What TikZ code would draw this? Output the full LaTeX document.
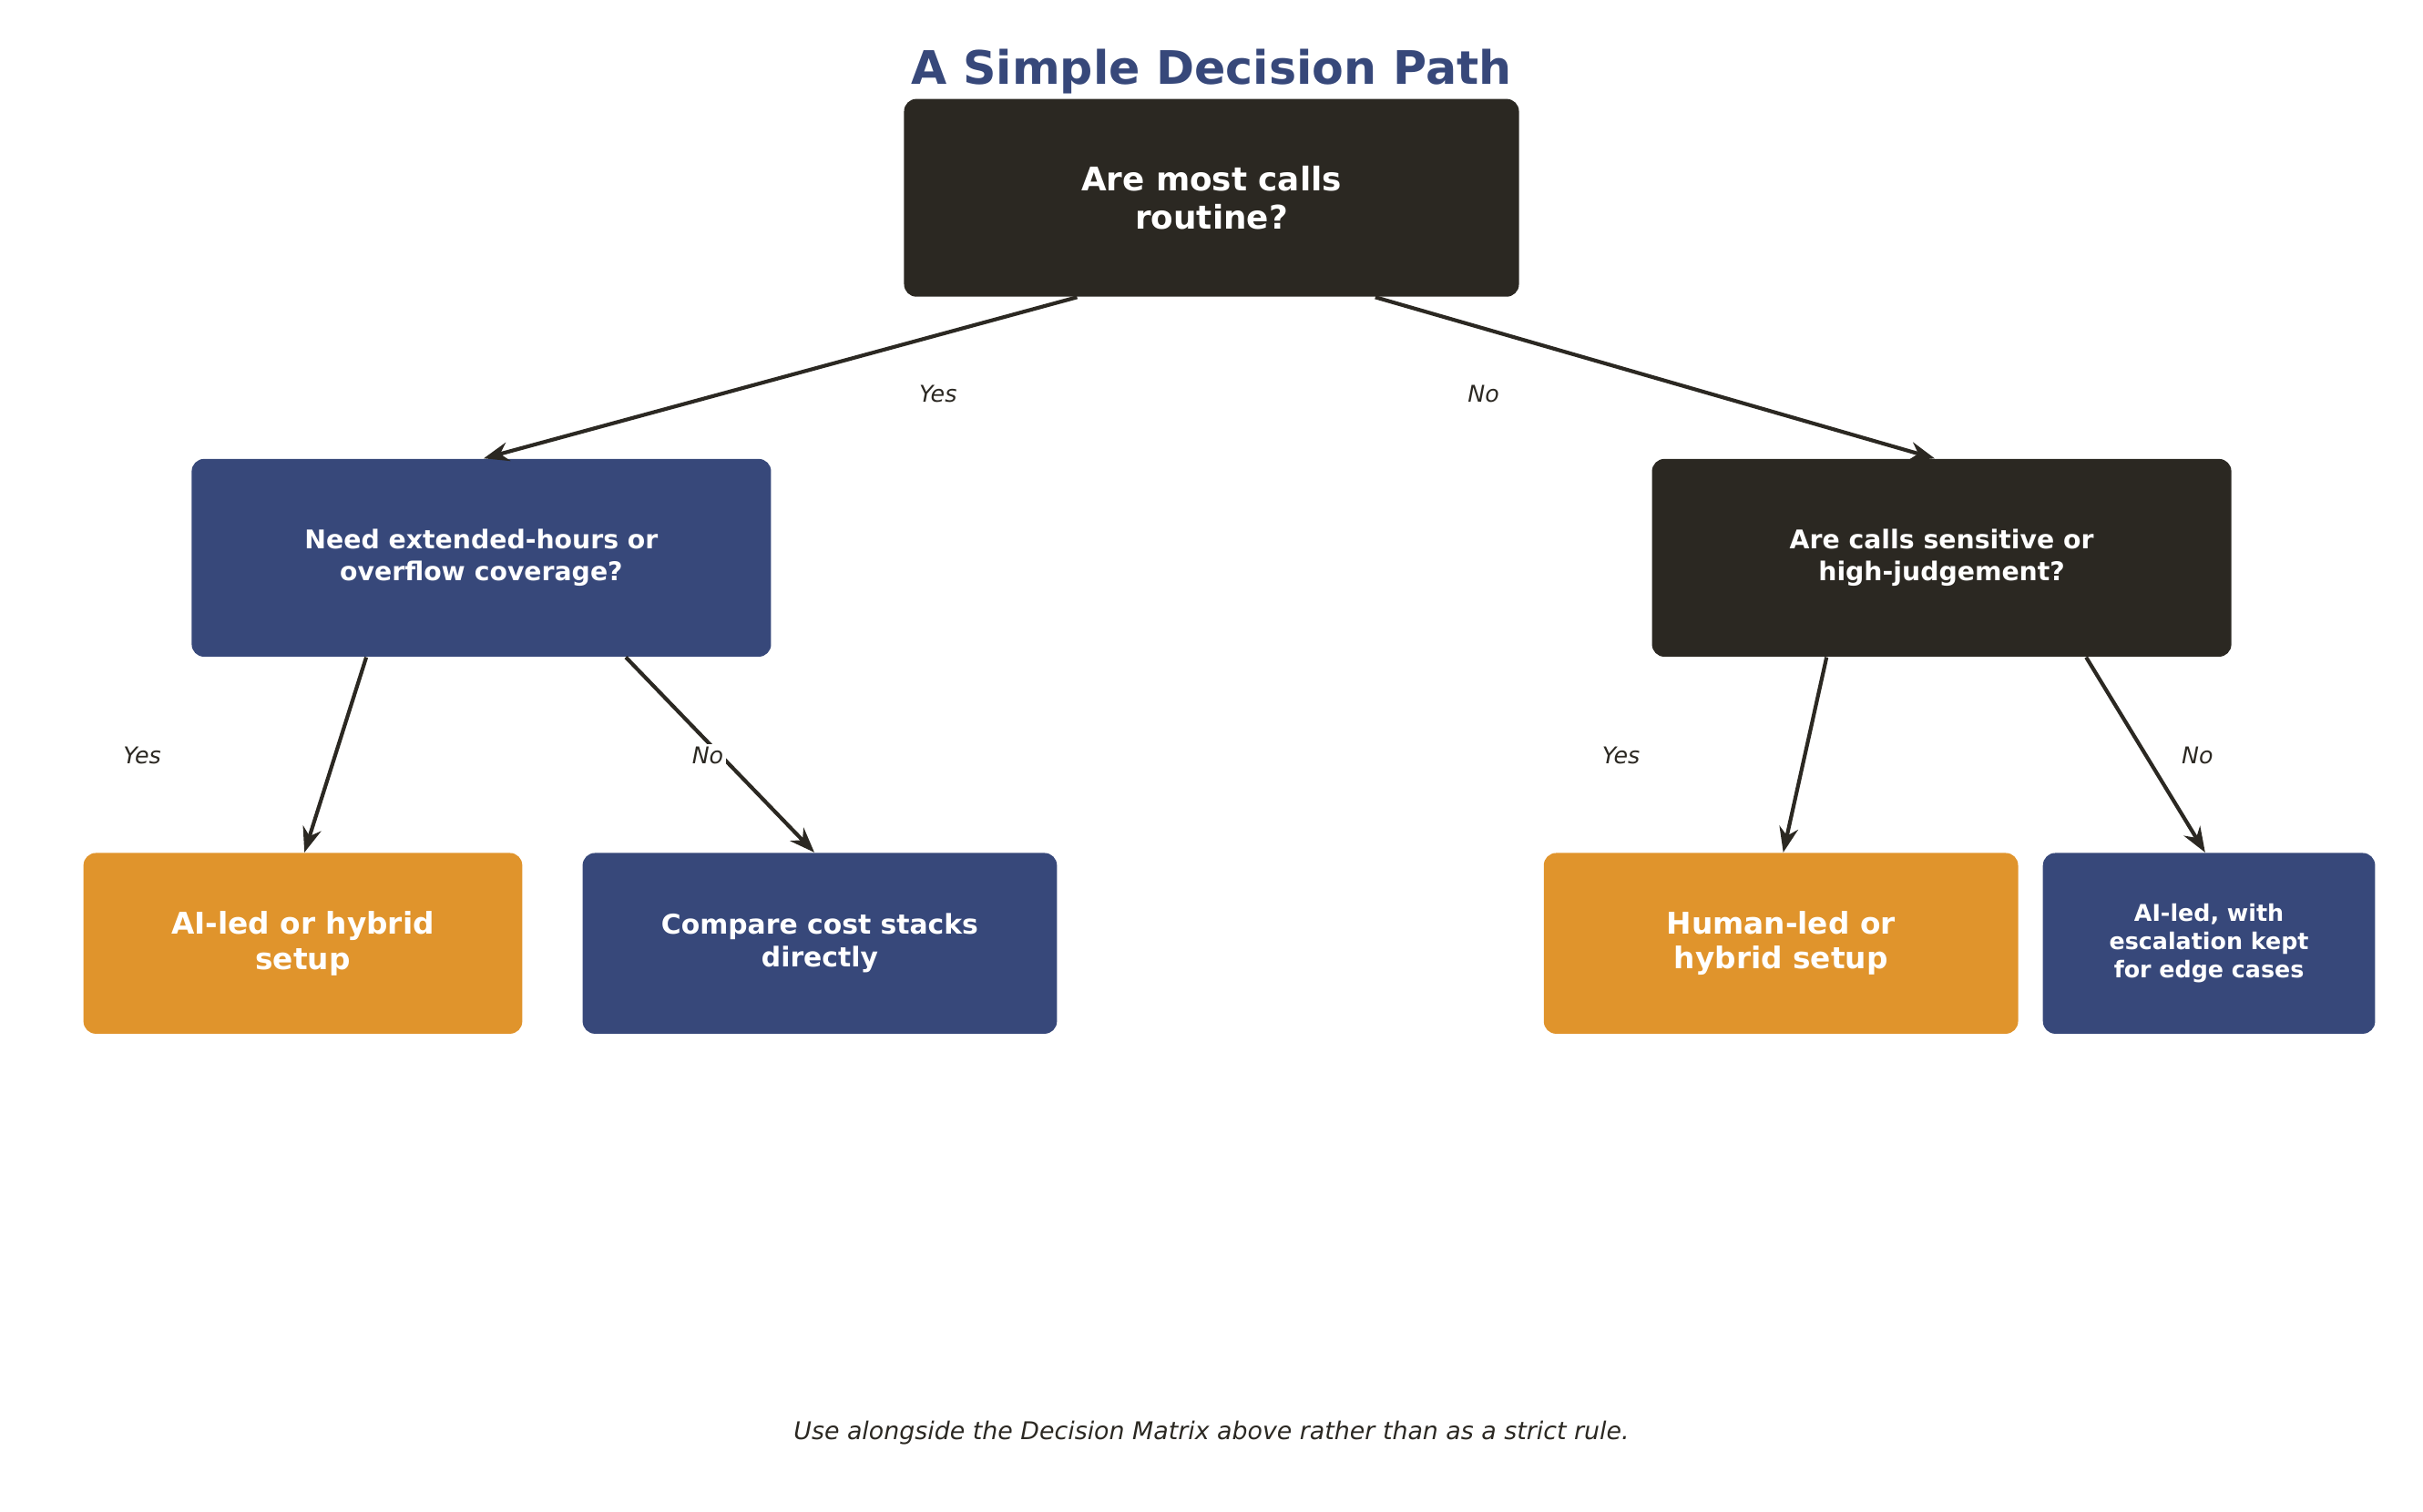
\documentclass[tikz,border=0pt]{standalone}
\usepackage{fontspec}
\setmainfont{DejaVu Sans}
\usetikzlibrary{positioning,arrows.meta,calc}
\definecolor{darkbox}{HTML}{2B2822}
\definecolor{bluebox}{HTML}{37487A}
\definecolor{orangebox}{HTML}{E0942C}
\begin{document}
\begin{tikzpicture}[
  x=0.02cm, y=-0.02cm,
  >=Stealth,
  box/.style={rounded corners=0.16cm, text=white, font=\bfseries, align=center, inner sep=0pt},
  q_dark/.style={box, fill=darkbox},
  q_blue/.style={box, fill=bluebox},
  leaf_orange/.style={box, fill=orangebox},
  edge/.style={->, draw=darkbox, line width=1.4pt},
  ans/.style={font=\itshape\fontsize{8.5}{10}\selectfont, text=darkbox}
]
\useasboundingbox (0,0) rectangle (1568,978);

% --- Titulo ---
\node[font=\bfseries\fontsize{17}{20}\selectfont, text=bluebox] (title) at (784,46) {A Simple Decision Path};

% --- Perguntas ---
\node[q_dark, minimum width=7.96cm, minimum height=2.56cm, font=\bfseries\fontsize{12}{14}\selectfont] (root) at (784,128) {Are most calls\\routine?};
\node[q_blue, minimum width=7.5cm, minimum height=2.56cm, font=\bfseries\fontsize{9.5}{11.5}\selectfont] (ext) at (311.5,361) {Need extended-hours or\\overflow coverage?};
\node[q_dark, minimum width=7.5cm, minimum height=2.56cm, font=\bfseries\fontsize{9.5}{11.5}\selectfont] (sens) at (1256.5,361) {Are calls sensitive or\\high-judgement?};

% --- Resultados ---
\node[leaf_orange, minimum width=5.68cm, minimum height=2.34cm, font=\bfseries\fontsize{11}{13}\selectfont] (ai_hybrid) at (196,610.5) {AI-led or hybrid\\setup};
\node[q_blue, minimum width=6.14cm, minimum height=2.34cm, font=\bfseries\fontsize{10}{12}\selectfont] (compare) at (530.5,610.5) {Compare cost stacks\\directly};
\node[leaf_orange, minimum width=6.14cm, minimum height=2.34cm, font=\bfseries\fontsize{11}{13}\selectfont] (human) at (1152.5,610.5) {Human-led or\\hybrid setup};
\node[q_blue, minimum width=4.3cm, minimum height=2.34cm, font=\bfseries\fontsize{8.5}{10.5}\selectfont] (ai_esc) at (1429.5,610.5) {AI-led, with\\escalation kept\\for edge cases};

% --- Conexoes ---
\draw[edge] ([xshift=-1.74cm]root.south) -- ([xshift=0.03cm]ext.north);
\draw[edge] ([xshift=2.12cm]root.south) -- ([xshift=-0.09cm]sens.north);
\draw[edge] ([xshift=-1.49cm]ext.south) -- ([xshift=0.02cm]ai_hybrid.north);
\draw[edge] ([xshift=1.87cm]ext.south) -- ([xshift=-0.07cm]compare.north);
\draw[edge] ([xshift=-1.49cm]sens.south) -- ([xshift=0.03cm]human.north);
\draw[edge] ([xshift=1.87cm]sens.south) -- ([xshift=-0.05cm]ai_esc.north);

% --- Respostas ---
\node[ans] (yes_root) at (607,255) {Yes};
\node[ans] (no_root) at (960,255) {No};
\node[ans] (yes_ext) at (92,489) {Yes};
\node[ans, fill=white, inner sep=1pt] (no_ext) at (458,489) {No};
\node[ans] (yes_sens) at (1049,489) {Yes};
\node[ans] (no_sens) at (1422,489) {No};

% --- Nota ---
\node[font=\itshape\fontsize{9}{11}\selectfont, text=darkbox] (note) at (784,927) {Use alongside the Decision Matrix above rather than as a strict rule.};
\end{tikzpicture}
\end{document}
